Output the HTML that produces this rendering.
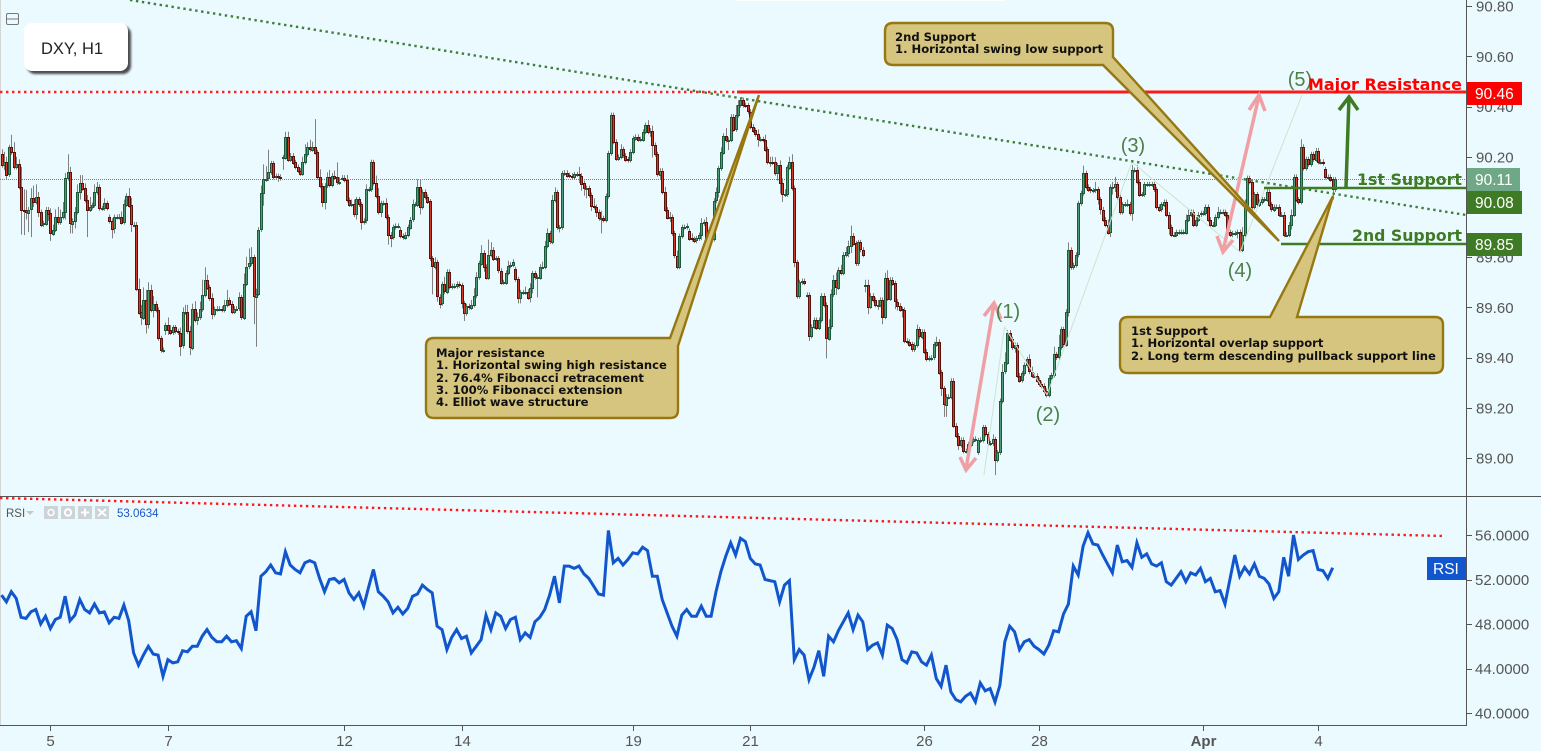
<!DOCTYPE html>
<html lang="en">
<head>
<meta charset="utf-8">
<title>DXY H1 chart</title>
<style>
html,body{margin:0;padding:0;background:#eafaff;width:1541px;height:751px;overflow:hidden}
svg{display:block;font-family:"Liberation Sans",Arial,sans-serif}
.note{font-family:"DejaVu Sans",sans-serif;font-size:11.6px;font-weight:bold;fill:#111}
.lvl{font-family:"DejaVu Sans",sans-serif;font-weight:bold;font-size:16px}
.wave{font-size:20px;fill:#4f7f47}
.axis{font-size:15px;fill:#555}
.box{font-size:15.5px;fill:#fff}
</style>
</head>
<body>
<svg id="chart" width="1541" height="751" viewBox="0 0 1541 751" xmlns="http://www.w3.org/2000/svg">
<defs><filter id="soft" x="-10%" y="-10%" width="125%" height="130%"><feGaussianBlur stdDeviation="1"/></filter></defs>
<rect x="0" y="0" width="1541" height="751" fill="#eafaff"/>
<rect x="0" y="0" width="1" height="725" fill="#d5d5d5"/>
<rect x="735" y="0" width="270" height="1" fill="#ffffff"/>
<g id="price-level"></g>
<g id="candles"></g>
<polyline points="984,475 1004.5,327 1047,395 1132,162 1240,252 1302,95" fill="none" stroke="#c9e6cf" stroke-width="1"/>
<line x1="130" y1="0" x2="1466" y2="215" stroke="#3f7f3a" stroke-width="2.4" stroke-dasharray="2.4 3.6"/>
<line x1="0" y1="92" x2="738" y2="92" stroke="#ff2020" stroke-width="2.4" stroke-dasharray="2.4 3.6"/>
<line x1="737" y1="92" x2="1466" y2="92" stroke="#ff1a1a" stroke-width="3"/>
<line x1="1264" y1="188" x2="1466" y2="188" stroke="#3f7a24" stroke-width="2.4"/>
<line x1="1281" y1="244" x2="1466" y2="244" stroke="#3f7a24" stroke-width="2.4"/>

<g fill="none" stroke="#f0a0a4" stroke-width="3.5">
<line x1="966" y1="469" x2="994" y2="304"/>
<polyline points="984,316 994,303 1001,319"/>
<polyline points="960,457 966,470 976,458"/>
</g>
<g fill="none" stroke="#f0a0a4" stroke-width="3.5">
<line x1="1223" y1="251" x2="1259" y2="96"/>
<polyline points="1249,110 1259,95 1265,111"/>
<polyline points="1217,236 1223,252 1233,240"/>
</g>
<g fill="none" stroke="#3f7a24" stroke-width="3.5">
<line x1="1346" y1="187" x2="1349" y2="97"/>
<polyline points="1339,110 1349,97 1358,110"/>
</g>

<text class="wave" x="1008" y="318" text-anchor="middle">(1)</text>
<text class="wave" x="1048" y="421" text-anchor="middle">(2)</text>
<text class="wave" x="1133" y="152" text-anchor="middle">(3)</text>
<text class="wave" x="1240" y="277" text-anchor="middle">(4)</text>
<text class="wave" x="1300" y="86" text-anchor="middle">(5)</text>

<g>
<path d="M434 338 H670 L759 95 L678 346 V410 Q678 418 670 418 H434 Q426 418 426 410 V346 Q426 338 434 338 Z" fill="#d5c57f" stroke="#97770f" stroke-width="2.4"/>
<text class="note">
<tspan x="436" y="357">Major resistance</tspan>
<tspan x="436" y="369">1. Horizontal swing high resistance</tspan>
<tspan x="436" y="382">2. 76.4% Fibonacci retracement</tspan>
<tspan x="436" y="394">3. 100% Fibonacci extension</tspan>
<tspan x="436" y="406">4. Elliot wave structure</tspan>
</text>
</g>
<g>
<path d="M893 23 H1105 Q1113 23 1113 31 V57 L1279 241 L1103 65 H893 Q885 65 885 57 V31 Q885 23 893 23 Z" fill="#d5c57f" stroke="#97770f" stroke-width="2.4"/>
<text class="note">
<tspan x="895" y="41">2nd Support</tspan>
<tspan x="895" y="53">1. Horizontal swing low support</tspan>
</text>
</g>
<g>
<path d="M1128 317 H1270 L1333 196 L1297 317 H1435 Q1443 317 1443 325 V365 Q1443 373 1435 373 H1128 Q1120 373 1120 365 V325 Q1120 317 1128 317 Z" fill="#d5c57f" stroke="#97770f" stroke-width="2.4"/>
<text class="note">
<tspan x="1131" y="335">1st Support</tspan>
<tspan x="1131" y="347">1. Horizontal overlap support</tspan>
<tspan x="1131" y="360">2. Long term descending pullback support line</tspan>
</text>
</g>

<text class="lvl" x="1462" y="90" text-anchor="end" fill="#ff0000" textLength="154" lengthAdjust="spacingAndGlyphs">Major Resistance</text>
<text class="lvl" x="1462" y="185" text-anchor="end" fill="#3f7a24" textLength="105" lengthAdjust="spacingAndGlyphs">1st Support</text>
<text class="lvl" x="1462" y="241" text-anchor="end" fill="#3f7a24" textLength="110" lengthAdjust="spacingAndGlyphs">2nd Support</text>

<g>
<rect x="27" y="26" width="104" height="48" rx="8" fill="#222" opacity=".8" filter="url(#soft)"/>
<rect x="24" y="23" width="104" height="48" rx="8" fill="#ffffff"/>
<text x="41" y="54" font-size="16.5" fill="#222">DXY, H1</text>
</g>
<g>
<rect x="6.5" y="13.5" width="12" height="11" rx="1.5" fill="none" stroke="#777" stroke-width="1"/>
<line x1="6.5" y1="19" x2="18.5" y2="19" stroke="#777" stroke-width="1"/>
</g>

<line x1="0" y1="496.5" x2="1541" y2="496.5" stroke="#555" stroke-width="1"/>
<line x1="1466.5" y1="0" x2="1466.5" y2="725" stroke="#555" stroke-width="1"/>
<line x1="0" y1="725.5" x2="1467" y2="725.5" stroke="#555" stroke-width="1"/>
<g id="price-axis"></g>
<g id="rsi-axis"></g>
<g id="time-axis"></g>

<g><rect x="1467" y="82" width="55" height="23" fill="#ff0000"/><text class="box" x="1475" y="99">90.46</text></g>
<g><rect x="1467" y="168" width="53" height="23" fill="#6fa886"/><text class="box" x="1475" y="185">90.11</text></g>
<g><rect x="1467" y="191" width="55" height="23" fill="#3f7a24"/><text class="box" x="1475" y="208">90.08</text></g>
<g><rect x="1467" y="233" width="55" height="23" fill="#3f7a24"/><text class="box" x="1475" y="250">89.85</text></g>

<line x1="0" y1="498" x2="1443" y2="536" stroke="#ff1a1a" stroke-width="2.4" stroke-dasharray="2.4 3.6"/>
<polyline id="rsi-line" fill="none" stroke="#1156cc" stroke-width="3" stroke-linejoin="miter"/>
<g>
<text x="6" y="517" font-size="11.5" fill="#555">RSI</text>
<polygon points="26,511 34,511 30,515" fill="#c8c8c8"/>
<g><rect x="44" y="506" width="14" height="13" fill="#ccd4d8"/><circle cx="51" cy="512.5" r="3" fill="none" stroke="#fff" stroke-width="1.5"/></g>
<g><rect x="61" y="506" width="14" height="13" fill="#ccd4d8"/><circle cx="68" cy="512.5" r="3.2" fill="none" stroke="#fff" stroke-width="2"/></g>
<g><rect x="78" y="506" width="14" height="13" fill="#ccd4d8"/><path d="M81 512.5H89M85 508.5V516.5" stroke="#fff" stroke-width="2"/></g>
<g><rect x="95" y="506" width="14" height="13" fill="#ccd4d8"/><path d="M98 509L106 516M106 509L98 516" stroke="#fff" stroke-width="2"/></g>
<text x="117" y="517" font-size="11.5" fill="#1c56c8">53.0634</text>
</g>
<g><rect x="1427" y="557" width="39" height="23" fill="#1156cc"/><text class="box" x="1433" y="574">RSI</text></g>
</svg>
<script>
const firstOpen = 90.21;
const closes = [
90.167,90.18,90.13,90.238,90.218,90.16,90.17,90.08,89.99,89.988,89.98,89.99,90.035,90.02,90.04,89.98,89.93,89.935,89.99,89.975,
89.895,89.91,89.96,89.94,89.96,89.98,90.115,90.14,89.935,89.945,89.98,90.06,90.097,90.074,90.028,89.99,90.0,90.008,90.06,90.08,
89.995,89.995,90.015,89.996,[89.96,89.945],89.915,89.96,89.96,89.962,89.94,90.01,90.045,90.007,89.93,89.93,89.675,89.58,89.56,89.63,89.536,
89.67,89.59,89.615,89.59,89.477,89.43,89.43,[89.51,89.53],89.51,89.5,89.52,89.505,89.5,89.447,89.58,89.58,89.505,89.44,89.595,89.55,89.56,89.593,
89.65,89.71,89.68,89.636,89.573,89.593,89.595,89.595,89.59,89.61,89.63,89.615,89.583,89.595,89.595,89.64,89.56,89.695,89.762,89.775,89.8,
89.643,89.655,89.91,90.055,90.11,90.113,90.138,90.174,90.12,90.123,90.12,90.115,[90.198,90.198],90.28,90.19,90.205,90.178,90.16,90.145,90.134,
90.18,90.21,90.238,90.23,90.24,90.218,90.12,90.085,90.02,90.085,90.118,90.088,90.125,90.118,90.098,90.098,[90.117,90.117],90.108,90.028,90.01,
90.01,89.97,90.03,90.01,89.94,89.945,90.07,90.07,90.178,90.095,90.045,89.98,90.015,90.015,89.96,89.89,89.88,89.92,89.925,89.925,
[89.91,89.885],89.88,89.89,89.92,89.95,90.01,90.01,90.08,90.0,90.06,90.04,90.022,89.795,89.762,89.78,89.643,89.616,
89.692,89.663,89.742,89.682,89.685,89.685,89.693,89.688,89.616,89.576,89.605,89.6,89.61,89.647,89.72,89.776,89.818,89.762,89.72,89.81,
89.83,89.795,89.795,89.746,89.70,89.70,89.738,89.766,89.77,89.782,[89.752,89.712],89.636,89.66,89.66,89.663,89.64,89.676,89.736,89.72,89.72,
89.762,89.762,89.845,89.895,89.862,90.028,90.058,89.919,89.919,90.134,90.137,90.127,90.125,90.12,90.13,90.13,90.125,90.095,90.075,90.075,90.048,
90.004,90.0,89.98,89.955,89.955,89.948,90.044,90.214,90.366,90.26,90.194,90.2,90.23,90.205,90.19,90.187,90.22,90.274,90.28,90.27,
90.27,90.3,90.326,90.3,90.304,90.247,90.21,90.131,90.145,90.06,89.99,89.96,89.96,89.895,89.806,89.762,89.884,89.92,89.92,
89.925,[89.905,89.875],89.872,89.866,89.875,89.888,89.935,89.94,89.872,89.872,89.872,90.025,90.058,90.154,90.218,90.284,90.267,90.268,90.36,90.31,
90.366,90.406,90.426,90.406,90.405,90.38,90.32,90.305,90.29,90.27,90.27,90.268,90.23,90.18,90.18,90.178,90.135,90.166,90.094,90.05,
90.05,90.158,90.18,90.075,89.78,89.645,89.7,89.705,89.698,[89.65,89.65],89.486,89.523,89.55,89.52,89.55,89.647,89.61,89.477,89.523,89.652,
89.709,89.68,89.75,89.738,89.81,89.82,89.846,89.886,89.855,89.775,89.859,89.83,89.81,[89.69,89.69],89.603,89.647,89.63,89.61,89.61,89.63,
89.563,89.718,89.636,89.71,89.696,89.623,89.607,89.592,89.59,89.467,89.463,89.453,89.433,89.45,89.512,89.483,89.503,89.424,89.395,
89.397,89.4,89.453,89.463,89.341,89.277,89.214,89.244,89.244,89.308,89.129,89.089,89.052,89.072,89.028,89.028,89.054,89.068,89.074,89.076,
[89.022,89.07],89.072,89.122,89.094,89.058,89.058,89.074,88.992,89.022,89.227,89.344,89.381,89.5,89.473,89.44,89.45,89.328,89.31,89.337,89.37,
89.393,89.344,89.328,89.328,89.31,89.295,89.288,89.268,89.251,89.32,89.33,89.413,89.4,89.441,89.513,89.453,89.583,89.829,89.76,89.769,
89.81,90.015,90.055,90.135,90.08,90.07,90.065,90.066,90.07,90.03,89.99,89.95,89.93,89.9,90.08,90.08,90.09,90.04,89.98,90.01,
90.01,90.01,89.975,90.147,90.147,90.10,90.05,90.05,90.09,90.09,90.09,90.09,90.07,90.0,89.99,90.01,90.02,89.97,89.92,89.89,
89.89,89.9,89.9,89.9,89.9,89.95,89.97,89.98,89.93,89.95,89.97,89.975,89.975,90.0,89.95,89.93,89.93,89.96,89.98,89.98,
89.98,89.97,89.9,89.89,89.895,89.895,89.9,89.83,89.89,90.0,90.115,90.10,90.0,90.05,90.01,90.02,90.03,90.03,90.06,90.01,
89.99,90.0,90.0,89.97,89.97,89.89,89.89,89.93,89.97,90.12,90.03,90.02,90.24,90.155,90.19,90.17,90.21,90.19,90.225,90.18,90.18,
90.175,[90.15,90.12],90.12,90.11,90.07,90.11
];
const wickUp = [
2,4,2,1,5,4,3,2,8,8,8,1,4,5,5,2,1,1,1,1,
2,2,3,4,3,4,2,7,2,1,2,3,3,3,2,2,4,1,3,2,
1,1,2,1,1,1,1,1,1,2,2,1,3,3,1,1,4,3,5,4,
3,2,3,1,1,1,1,1,3,2,1,1,1,2,2,3,3,2,2,3,2,3,
6,5,2,1,2,1,1,1,1,2,4,1,1,1,1,2,1,4,4,6,4,
1,2,1,3,6,5,9,1,1,1,1,1,1,2,2,1,1,1,1,1,
2,4,2,3,2,11,1,3,1,1,2,3,1,2,6,2,1,1,2,1,
2,2,1,1,1,1,2,1,1,1,3,3,1,1,2,1,1,1,1,1,
1,1,1,1,1,2,1,3,3,1,1,1,1,1,2,1,1,
1,3,1,1,1,1,1,1,1,1,1,1,2,3,2,1,3,1,1,6,
3,1,1,1,1,1,1,2,1,1,1,1,1,1,2,1,2,1,1,1,
1,2,2,2,1,2,2,1,1,1,1,1,1,1,1,1,3,1,1,1,1,
1,3,1,1,3,1,1,1,1,1,1,1,2,1,1,1,1,1,1,1,
1,1,1,2,1,2,1,1,1,1,2,1,2,1,1,2,1,1,1,
1,1,2,1,1,1,2,1,2,1,1,1,2,1,2,1,3,1,1,1,
4,2,1,1,1,1,1,1,1,2,1,1,2,1,2,2,2,1,2,2,
2,1,2,3,1,1,1,1,1,1,1,1,1,1,1,1,1,1,3,2,
2,3,1,2,1,2,2,4,1,1,1,1,1,2,2,1,1,1,2,1,
1,2,3,1,1,1,1,1,1,1,1,1,1,1,2,1,1,1,1,
1,1,1,2,1,1,1,1,1,1,1,1,1,1,1,1,1,1,1,1,
1,1,1,1,1,1,2,1,1,1,3,4,1,1,1,1,1,1,1,1,
1,2,2,1,1,1,1,1,1,1,1,3,1,5,1,1,1,3,1,1,
1,1,1,3,1,1,1,1,3,1,1,1,1,2,1,2,3,1,1,1,
1,2,1,2,1,2,1,1,1,1,1,1,1,1,1,1,1,1,1,1,
1,1,1,1,1,2,2,1,1,1,1,1,1,1,1,1,1,1,2,1,
1,1,1,1,1,1,1,1,3,3,1,1,1,1,1,1,1,1,2,1,
1,1,1,1,1,1,1,1,2,1,1,1,3,1,1,1,1,1,1,1,
1,1,1,1,1,1,1
];
const wickDown = [
1,2,2,1,1,1,1,1,10,10,3,8,11,2,1,2,1,1,1,3,
3,1,1,1,1,1,3,1,4,4,3,1,3,1,1,11,1,1,1,1,
1,1,1,1,1,4,2,1,1,1,1,1,1,3,1,1,1,3,1,4,
2,1,3,1,1,1,1,2,2,1,1,1,1,4,1,1,1,3,1,1,2,1,
1,1,1,1,2,1,1,1,1,1,1,1,1,1,1,1,1,1,1,1,1,
11,20,1,1,5,1,1,1,1,1,2,1,5,1,1,1,1,1,1,1,
1,1,1,1,1,1,1,1,2,3,1,1,1,1,1,1,1,1,1,1,
1,1,2,1,3,1,1,1,1,1,1,1,2,1,1,4,4,1,1,1,
1,1,1,1,1,1,1,1,3,1,1,1,1,11,1,2,2,
1,1,1,1,1,1,1,1,2,3,1,1,1,1,1,1,1,2,1,1,
1,1,1,1,1,1,1,1,1,1,1,2,2,1,1,1,2,2,1,8,
1,1,1,1,1,1,1,1,2,1,1,1,1,1,1,1,3,3,3,4,1,
2,1,2,1,6,1,1,1,1,1,1,1,1,1,1,1,1,1,1,1,
1,1,1,1,2,5,1,1,2,1,1,1,2,1,1,1,1,1,1,
1,1,1,1,1,1,2,1,1,1,1,1,1,2,1,1,1,4,1,1,
1,1,1,1,1,1,1,1,1,3,1,1,1,1,2,1,1,3,4,3,
1,1,1,1,2,1,1,1,1,1,2,1,1,1,1,1,1,8,1,1,
1,3,1,1,1,1,2,3,1,1,1,1,1,3,3,1,1,1,2,1,
3,1,1,1,1,3,2,1,3,1,1,1,1,1,1,1,1,1,1,
1,1,1,1,1,3,5,5,1,1,1,1,2,1,1,1,1,1,1,1,
1,1,1,1,1,1,1,6,1,1,1,1,1,1,1,2,1,1,1,1,
1,1,1,1,1,1,1,1,1,1,1,1,1,1,1,1,1,2,1,1,
1,1,1,1,1,1,1,1,1,2,2,1,1,1,2,3,2,1,1,1,
1,1,1,3,1,1,1,1,1,1,1,1,1,1,1,1,1,1,3,1,
1,1,1,1,1,1,1,1,1,1,1,1,1,1,1,1,1,1,1,1,
1,1,1,1,1,1,2,1,1,1,1,1,1,1,1,1,1,1,1,1,
1,1,1,1,1,1,1,1,2,1,1,1,1,1,1,1,1,1,1,1,
1,1,1,1,1,4,1
];
const rsiValues = [
50.6,50.0,50.9,50.3,48.6,48.5,49.1,49.3,48.0,48.7,47.6,48.4,48.6,50.5,48.3,48.8,50.2,49.3,49.0,49.8,
49.0,49.1,48.1,48.6,48.5,49.7,48.3,45.4,44.3,45.2,46.0,45.3,45.2,43.3,44.8,44.5,44.6,45.6,45.5,46.0,
46.0,46.9,47.5,46.8,46.4,46.4,46.9,46.4,46.5,45.8,48.7,49.1,47.4,52.3,52.7,53.3,52.6,52.5,54.5,53.3,
52.9,52.6,53.5,53.7,53.5,52.1,50.9,52.0,52.1,51.7,52.0,50.8,50.2,50.8,49.6,51.3,52.9,50.9,50.5,50.0,
49.0,49.5,48.9,49.4,50.5,50.7,51.5,51.1,50.8,47.8,47.5,45.7,46.8,47.5,46.7,46.9,45.4,46.0,46.6,48.8,
47.5,49.0,48.7,47.6,48.4,48.6,46.6,47.2,46.8,48.2,48.6,49.3,50.6,52.3,49.9,53.2,53.2,53.0,53.2,52.5,
52.1,51.4,50.7,50.6,56.4,53.5,53.9,53.3,53.8,54.4,54.3,54.9,54.6,52.3,52.3,50.2,49.0,47.8,46.9,48.8,
49.3,48.7,48.7,49.6,48.7,48.7,50.9,52.7,54.1,55.3,54.2,55.7,55.4,53.9,53.4,53.3,52.0,51.9,51.8,50.0,
51.5,51.9,44.8,45.7,45.2,43.0,44.1,45.6,43.3,46.9,46.4,47.4,48.2,49.0,47.5,48.8,48.2,45.7,46.1,46.3,
45.2,47.9,47.6,46.6,44.8,44.5,45.5,45.4,44.6,44.3,45.2,43.1,42.4,44.3,41.9,41.2,41.0,41.5,41.8,41.0,
42.7,42.0,42.2,41.0,42.5,46.4,47.8,47.3,45.7,46.4,46.6,46.0,45.7,45.3,46.1,47.4,47.3,48.9,49.8,53.2,
52.4,55.0,56.2,55.2,55.1,54.2,53.4,52.6,55.1,53.6,53.7,53.1,55.3,54.0,54.3,53.4,53.2,53.5,51.8,51.5,
52.1,52.7,51.8,52.6,52.4,53.0,51.8,52.1,50.9,51.0,49.8,52.0,54.2,52.3,53.1,52.5,53.4,52.3,52.1,51.6,
50.3,50.9,54.0,52.3,56.0,53.8,54.2,54.5,54.6,52.9,52.8,52.1,53.06
];
const priceTicks = [90.8,90.6,90.4,90.2,90.0,89.8,89.6,89.4,89.2,89.0];
const rsiTicks = [56,52,48,44,40];
const dateLabels = ['5','7','12','14','19','21','26','28','Apr','4'];
const dateBars = [20,68,140,188,258,306,377,424,491,538];
const lastPrice = 90.11;

const NS = 'http://www.w3.org/2000/svg';
function xOf(i){ return 1.5 + i * 2.447; }
function yOf(p){ return 458 - (p - 89) * 251; }
function rsiY(v){ return 713 - (v - 40) * 11.125; }
function make(tag, parent, attrs){
  const el = document.createElementNS(NS, tag);
  for (const k in attrs) el.setAttribute(k, attrs[k]);
  parent.appendChild(el);
  return el;
}

const levelGroup = document.getElementById('price-level');
const levelLine = make('line', levelGroup, {x1:0, x2:1466, y1:Math.round(yOf(lastPrice)) + .5, y2:Math.round(yOf(lastPrice)) + .5, stroke:'#5f8f78', 'stroke-width':1, 'stroke-dasharray':'1 1'});



const candleGroup = document.getElementById('candles');
let prev = firstOpen;
closes.forEach(function(entry, i){
  const open = Array.isArray(entry) ? entry[0] : prev;
  const close = Array.isArray(entry) ? entry[1] : entry;
  prev = close;
  const up = (wickUp[i] || 0) / 100;
  const down = (wickDown[i] || 0) / 100;
  const cx = Math.round(xOf(i));
  const top = Math.max(open, close);
  const bottom = Math.min(open, close);
  const rising = close >= open;
  const wick = make('line', candleGroup, {x1:cx + .5, x2:cx + .5, y1:yOf(top + up), y2:yOf(bottom - down), stroke:'#808080', 'stroke-width':1});
  
  
  const h = Math.max(yOf(bottom) - yOf(top), 1);
  const body = make('rect', candleGroup, {x:cx - .5, y:Math.round(yOf(top)) + .5, width:2, height:Math.round(h), fill:rising ? '#4c9a76' : '#d23a28', stroke:rising ? '#1d5a3c' : '#5c100a', 'stroke-width':1});
  
  
});

const priceAxis = document.getElementById('price-axis');
priceTicks.forEach(function(t){
  const ty = Math.round(yOf(t)) + .5;
  const tick = make('line', priceAxis, {x1:1467, x2:1472, y1:ty, y2:ty, stroke:'#555', 'stroke-width':1});
  
  
  const label = make('text', priceAxis, {x:1476, y:yOf(t) + 5.5, class:'axis'});
  
  
  label.textContent = t.toFixed(2);
});

const rsiAxis = document.getElementById('rsi-axis');
rsiTicks.forEach(function(t){
  const ty = Math.round(rsiY(t)) + .5;
  const tick = make('line', rsiAxis, {x1:1467, x2:1472, y1:ty, y2:ty, stroke:'#555', 'stroke-width':1});
  
  
  const label = make('text', rsiAxis, {x:1475, y:rsiY(t) + 5.5, class:'axis'});
  
  
  label.textContent = t.toFixed(4);
});

const timeAxis = document.getElementById('time-axis');
dateLabels.forEach(function(d, k){
  const x = Math.round(xOf(dateBars[k])) + .5;
  const tick = make('line', timeAxis, {x1:x, x2:x, y1:726, y2:731, stroke:'#555', 'stroke-width':1});
  
  
  const label = make('text', timeAxis, {x:x, y:746, class:'axis', 'text-anchor':'middle'});
  
  
  if (d === 'Apr') label.setAttribute('font-weight', 'bold');
  label.textContent = d;
});

document.getElementById('rsi-line').setAttribute('points', rsiValues.map(function(v, j){
  return xOf(j * 2).toFixed(1) + ',' + rsiY(v).toFixed(1);
}).join(' '));
</script>
</body>
</html>
